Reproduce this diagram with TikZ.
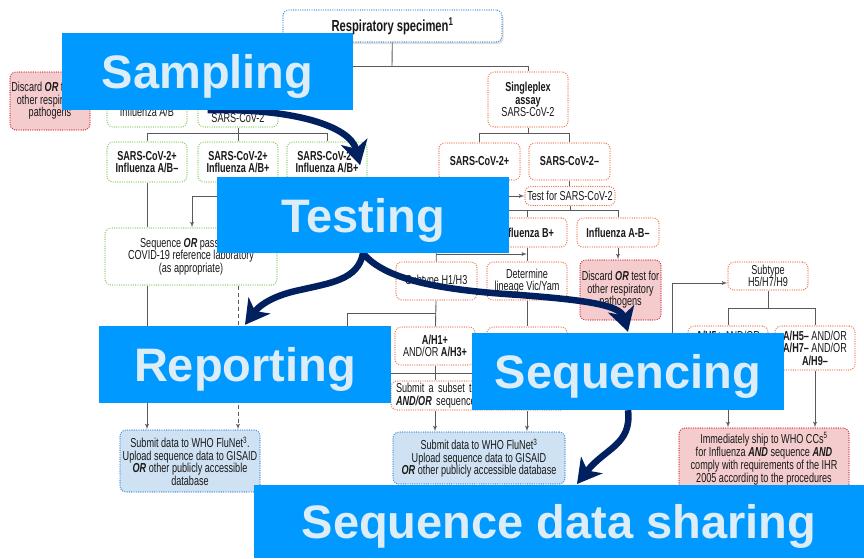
\documentclass[tikz,border=0pt]{standalone}
\usepackage{fontspec}
\setmainfont{Liberation Sans}
\newfontfamily\chartfont[FakeStretch=0.7]{Liberation Sans}
\usetikzlibrary{arrows, arrows.meta, shadows}

\definecolor{orng}{HTML}{E97B4F}
\definecolor{grn}{HTML}{86CC5E}
\definecolor{blu}{HTML}{3D8BD6}
\definecolor{rd}{HTML}{D8303C}
\definecolor{pinkf}{HTML}{F4CCCD}
\definecolor{palef}{HTML}{CFE2F3}
\definecolor{sky}{HTML}{0099FF}
\definecolor{deep}{HTML}{002060}
\definecolor{mist}{HTML}{DDEDF8}

\newcommand{\orw}   {\textbf{\textit{OR}}}
\newcommand{\andw}  {\textbf{\textit{AND}}}

\pgfdeclarelayer{front}
\pgfsetlayers{main,front}

\begin{document}
\begin{tikzpicture}
    [
        x=1pt, y=-1pt,
        font=\chartfont\fontsize{13}{12.5}\selectfont,
        cbox/.style  ={rounded corners=6pt, line width=1.4pt, line cap=round,
                       dash pattern=on 0pt off 2.3pt, align=center, inner sep=1pt,
                       text=black!90},
        wh/.style 2 args={minimum width=#1pt, minimum height=#2pt},
        sbox/.style  ={cbox, draw=blu, fill=white,
                       drop shadow={opacity=0.25, shadow xshift=1.5pt, shadow yshift=-2pt}},
        obox/.style  ={cbox, draw=orng, fill=white},
        gbox/.style  ={cbox, draw=grn, fill=white},
        bbox/.style  ={cbox, draw=blu, fill=palef},
        rbox/.style  ={cbox, draw=rd, fill=pinkf},
        wire/.style  ={draw=black!65, line width=0.9pt},
        oarc/.style  ={->, >=latex', wire},
        stage/.style ={draw=deep, line width=6.5pt,
                       -{Stealth[length=24pt, width=27pt, inset=7pt]}},
        banner/.style={fill=sky, text=mist, inner sep=0pt,
                       font=\normalfont\bfseries\fontsize{47}{50}\selectfont,
                       text height=34pt, text depth=0pt}
    ]
    \useasboundingbox (0,0) rectangle (864,558);

    % assays
    \node[sbox, wh={219}{32}, font=\chartfont\bfseries\fontsize{16}{16}\selectfont]
                     (spec)  at (392.5,26)   {Respiratory specimen\textsuperscript{1}};
    \node[gbox, wh={80}{55}]  (msa)   at (147,99.5)   {\textbf{Singleplex}\\\textbf{assay}\\Influenza A/B};
    \node[gbox, wh={80}{55}]  (mplx)  at (238,99.5)   {\textbf{Multiplex}\\\textbf{assay}\\Influenza A/B\\SARS-CoV-2};
    \node[obox, wh={80}{55}]  (sgl)   at (528,99.5)   {\textbf{Singleplex}\\\textbf{assay}\\SARS-CoV-2};
    \node[rbox, wh={80}{58}]  (disc0) at (50,101)     {Discard \orw{} test for\\other respiratory\\pathogens};

    % first results
    \node[gbox, wh={80}{40}]  (g1)    at (147,162)    {\textbf{SARS-CoV-2+}\\\textbf{Influenza A/B–}};
    \node[gbox, wh={80}{40}]  (g2)    at (238,162)    {\textbf{SARS-CoV-2+}\\\textbf{Influenza A/B+}};
    \node[gbox, wh={80}{40}]  (g3)    at (327,162)    {\textbf{SARS-CoV-2–}\\\textbf{Influenza A/B+}};
    \node[obox, wh={81}{37}]  (o1)    at (479.5,161.5) {\textbf{SARS-CoV-2+}};
    \node[obox, wh={81}{37}]  (o2)    at (569.5,161.5) {\textbf{SARS-CoV-2–}};
    \node[obox, wh={90}{19}]  (tst)   at (570,196)    {Test for SARS-CoV-2};
    \node[gbox, wh={172}{57}] (seqbox) at (191,256.5) {Sequence \orw{} pass on to\\COVID-19 reference laboratory\\(as appropriate)};

    % influenza branch
    \node[obox, wh={80}{29}]  (fa)    at (436,232.5)  {\textbf{Influenza A+}};
    \node[obox, wh={80}{29}]  (fb)    at (527,232.5)  {\textbf{Influenza B+}};
    \node[obox, wh={82}{29}]  (fn)    at (618,232.5)  {\textbf{Influenza A-B–}};
    \node[rbox, wh={81}{60}]  (disc1) at (620.5,290)  {Discard \orw{} test for\\other respiratory\\pathogens};
    \node[obox, wh={81}{38}]  (h13)   at (436.5,281)  {Subtype H1/H3};
    \node[obox, wh={80}{38}]  (lin)   at (527,281)    {Determine\\lineage Vic/Yam};
    \node[obox, wh={80}{38}]  (ah)    at (435,346)    {\textbf{A/H1+}\\AND/OR \textbf{A/H3+}};
    \node[obox, wh={80}{38}]  (bvy)   at (527,346)    {};
    \node[obox, wh={176}{29}, text width=166pt, align=left]
                              (sub)   at (479,395.5)  {Submit a subset to\\\textbf{\textit{AND/OR}} sequence};
    \node[obox, wh={80}{28}]  (h5)    at (768,276)    {Subtype\\H5/H7/H9};
    \node[obox, wh={80}{44}]  (r1)    at (728,348)    {\textbf{A/H5+} AND/OR\\\textbf{A/H7+} AND/OR\\\textbf{A/H9+}};
    \node[obox, wh={80}{44}]  (r2)    at (815,348)    {\textbf{A/H5–} AND/OR\\\textbf{A/H7–} AND/OR\\\textbf{A/H9–}};

    % data sharing
    \node[bbox, wh={140}{62}] (up0)   at (190,461)    {Submit data to WHO FluNet\textsuperscript{3}.\\Upload sequence data to GISAID\\\orw{} other publicly accessible\\database};
    \node[bbox, wh={172}{52}] (up1)   at (479,458)    {Submit data to WHO FluNet\textsuperscript{3}\\Upload sequence data to GISAID\\\orw{} other publicly accessible database};
    \node[rbox, wh={170}{72}, font=\chartfont\fontsize{13}{11.6}\selectfont]
                              (ship)  at (764,464)    {Immediately ship to WHO CCs\textsuperscript{5}\\for Influenza \andw{} sequence \andw\\comply with requirements of the IHR\\2005 according to the procedures\\established};

    % junctions
    \coordinate (t0) at (392,66);
    \coordinate (t1) at (238,133);
    \coordinate (t2) at (528,133);
    \coordinate (t3) at (192,196);
    \coordinate (t4) at (570,210);
    \coordinate (t5) at (436,254);
    \coordinate (t6) at (436,313);
    \coordinate (t7) at (347,373);
    \coordinate (t8) at (672,283);
    \coordinate (t9) at (768,308);

    \draw[wire]     (spec) -- (t0);
    \draw[wire]     (msa.north) |- (t0);
    \draw[wire]     (sgl.north) |- (t0);
    \draw[oarc]     (msa) -- (disc0);

    \draw[wire]     (mplx) -- (t1);
    \draw[wire]     (g1.north) |- (t1);
    \draw[wire]     (g2.north) -- (t1);
    \draw[wire]     (g3.north) |- (t1);

    \draw[wire]     (sgl) -- (t2);
    \draw[wire]     (o1.north) |- (t2);
    \draw[wire]     (o2.north) |- (t2);

    \draw[wire]     (g1) -- (g1 |- seqbox.north);
    \draw[wire]     (g2.south) |- (t3);
    \draw[oarc]     (t3) -- (t3 |- seqbox.north);
    \draw[oarc]     (g2.south) |- (tst.west);
    \draw[wire]     (g3.south) -- (g3.south |- tst.west);
    \draw[wire]     (o1.south) -- (o1.south |- tst.west);
    \draw[wire]     (o2.south) -- (o2.south |- tst.north);

    \draw[wire]     (tst) -- (t4);
    \draw[wire]     (fa.north) |- (t4);
    \draw[wire]     (fn.north) |- (t4);
    \draw[wire]     (fb.north) -- (fb.north |- t4);
    \draw[oarc]     (fn.south) -- (fn.south |- disc1.north);

    \draw[wire]     (fa) -- (h13);
    \draw[oarc]     (t5) -- (t5 -| fb);
    \draw[wire]     (fb) -- (lin);
    \draw[wire]     (h13) -- (ah);
    \draw[wire]     (lin) -- (bvy);
    \draw[oarc]     (t6) -| (t7) -| (t8) -- (t8 -| h5.west);
    \draw[wire]     (ah) -- (ah |- sub.north);
    \draw[wire]     (bvy) -- (bvy |- sub.north);
    \draw[oarc]     (sub.south -| ah) -- (up1.north -| ah);
    \draw[oarc]     (sub.south -| bvy) -- (up1.north -| bvy);

    \draw[oarc]     (seqbox.south -| g1) -- (up0.north -| g1);
    \draw[oarc, dash pattern=on 4pt off 3pt]
                    (seqbox.south -| g2) -- (up0.north -| g2);

    \draw[wire]     (h5) -- (t9);
    \draw[wire]     (r1.north) |- (t9);
    \draw[wire]     (r2.north) |- (t9);
    \draw[oarc]     (r1.south) -- (r1.south |- ship.north);
    \draw[oarc]     (r2.south) -- (r2.south |- ship.north);

    % stages, laid over the chart
    \begin{pgfonlayer}{front}
    \node[banner, wh={291}{77}] (samp)  at (207.5,71.5) {Sampling};
    \node[banner, wh={292}{76}] (test)  at (363,215)    {Testing};
    \node[banner, wh={292}{77}] (rep)   at (245,364.5)  {Reporting};
    \node[banner, wh={312}{77}] (seqn)  at (628,371.5)  {Sequencing};
    \node[banner, wh={610}{73}] (share) at (559,521.5)  {Sequence data sharing};
    \end{pgfonlayer}

    \coordinate (a2) at (300,290);
    \coordinate (a3) at (520,295);
    \coordinate (a4) at (577,484);

    \draw[stage, shorten >=12pt] (samp.south) .. controls (290,108) and (350,125) .. (test.north);
    \draw[stage] (test.south) .. controls (358,280) and (330,283) .. (a2)
                              .. controls (280,294) and (262,302) .. ([yshift=1pt]rep.north);
    \draw[stage] (test.south) .. controls (385,280) and (440,290) .. (a3)
                              .. controls (585,300) and (620,305) .. ([yshift=1pt]seqn.north);
    \draw[stage] (seqn.south) .. controls (632,445) and (605,448) .. (a4);

\end{tikzpicture}
\end{document}
